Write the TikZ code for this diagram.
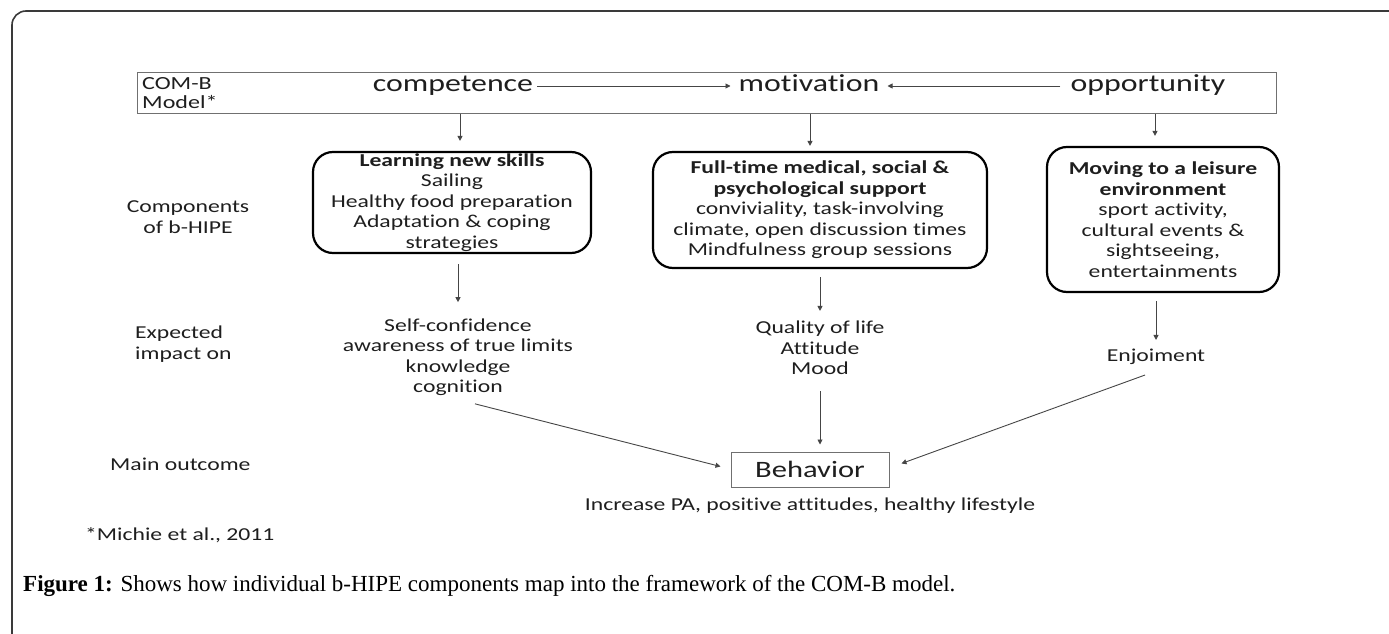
\documentclass[tikz,border=0pt]{standalone}
\usepackage{fontspec}
\newfontfamily\diag[FakeStretch=1.3,Ligatures={NoCommon}]{Carlito}
\newfontfamily\capserif{Liberation Serif}
\usetikzlibrary{arrows.meta,calc}
\definecolor{txt}{HTML}{1E1E1E}
\definecolor{ln}{HTML}{454545}
\definecolor{bx}{HTML}{707070}
\definecolor{frm}{HTML}{3A3A3A}
\begin{document}
\begin{tikzpicture}[x=1pt,y=-1pt,
  base/.style={inner sep=0pt, text=txt},
  lbl/.style={base, font=\diag\fontsize{18.2}{20.5}\selectfont, align=center},
  biglbl/.style={base, font=\diag\fontsize{24.5}{28}\selectfont, text height=17pt, text depth=5pt},
  rndbox/.style={lbl, draw=black, line width=2.2pt, rounded corners=20pt},
  conn/.style={draw=ln, line width=0.9pt, -{Triangle[length=5pt,width=5pt]}},
]
\useasboundingbox (0,0) rectangle (1389,634);
% outer frame
\draw[frm, line width=1.6pt, rounded corners=14pt] (12,640) -- (12,11) -- (1395,11);

% COM-B row
\node[draw=bx, line width=1pt, minimum width=1139pt, minimum height=40pt, inner sep=0pt] (top) at (706.5,93) {};
\node[base, anchor=west, align=left, font=\diag\fontsize{18.5}{19}\selectfont] (comb) at (142,93) {COM-B\\Model*};
\node[biglbl, inner xsep=4pt] (comp) at (453,86) {competence};
\node[biglbl, inner xsep=8pt] (mot) at (809,86) {motivation};
\node[biglbl, inner xsep=10pt] (opp) at (1148,86) {opportunity};
\draw[conn] (comp.east) -- (mot.west);
\draw[conn] (opp.west) -- (mot.east);

% components
\node[lbl] (compo) at (188,217) {Components\\of b-HIPE};
\node[rndbox, minimum width=278pt, minimum height=101pt] (lbox) at (452,202.5)
  {\textbf{Learning new skills}\\Sailing\\Healthy food preparation\\Adaptation \& coping\\strategies};
\node[rndbox, minimum width=334pt, minimum height=116pt] (mbox) at (820,210)
  {\textbf{Full-time medical, social \&}\\\textbf{psychological support}\\conviviality, task-involving\\climate, open discussion times\\Mindfulness group sessions};
\node[rndbox, minimum width=232pt, minimum height=145pt] (rbx) at (1163,219.5)
  {\textbf{Moving to a leisure}\\\textbf{environment}\\sport activity,\\cultural events \&\\sightseeing,\\entertainments};

\draw[conn] ([xshift=8pt]lbox.north |- top.south) -- ([xshift=8pt,yshift=10pt]lbox.north);
\draw[conn] ([xshift=-10pt]mbox.north |- top.south) -- ([xshift=-10pt,yshift=5pt]mbox.north);
\draw[conn] ([xshift=-8pt]rbx.north |- top.south) -- ([xshift=-8pt,yshift=10pt]rbx.north);

% expected impact
\node[lbl, anchor=west, align=left] (expl) at (135,344) {Expected\\impact on};
\node[lbl] (imp1) at (458,357) {Self-confidence\\awareness of true limits\\knowledge\\cognition};
\node[lbl] (imp2) at (820,348) {Quality of life\\Attitude\\Mood};
\node[lbl] (enj) at (1156,357) {Enjoiment};

\draw[conn] ([xshift=6pt,yshift=-10pt]lbox.south) -- ([yshift=16pt]imp1.north);
\draw[conn] ([yshift=-8pt]mbox.south) -- ([yshift=10pt]imp2.north);
\draw[conn] ([xshift=-7pt,yshift=-8pt]rbx.south) -- ([yshift=9pt]enj.north);

% outcome
\node[lbl, anchor=west] (mainl) at (110,464) {Main outcome};
\node[draw=bx, line width=1pt, minimum width=158pt, minimum height=35pt, inner sep=0pt,
  text=txt, font=\diag\fontsize{23.5}{26}\selectfont] (beh) at (810,469.5) {Behavior};
\draw[conn] ([yshift=-16pt]imp2.south) -- ($(imp2.south |- beh.north)+(0,-7)$);
\draw[conn] ([xshift=17pt,yshift=-8pt]imp1.south) -- ([xshift=-10pt,yshift=3pt]beh.west);
\draw[conn] ([xshift=-11pt,yshift=-10pt]enj.south) -- ([xshift=12pt,yshift=6pt]beh.east);
\node[lbl] (incr) at (810,506) {Increase PA, positive attitudes, healthy lifestyle};
\node[lbl, anchor=west] (mich) at (85,535) {*Michie et al., 2011};

% caption
\node[base, anchor=west, font=\capserif\fontsize{23}{27}\selectfont, text=black] (cap) at (23,586)
  {\textbf{Figure 1:} Shows how individual b-HIPE components map into the framework of the COM-B model.};
\end{tikzpicture}
\end{document}
